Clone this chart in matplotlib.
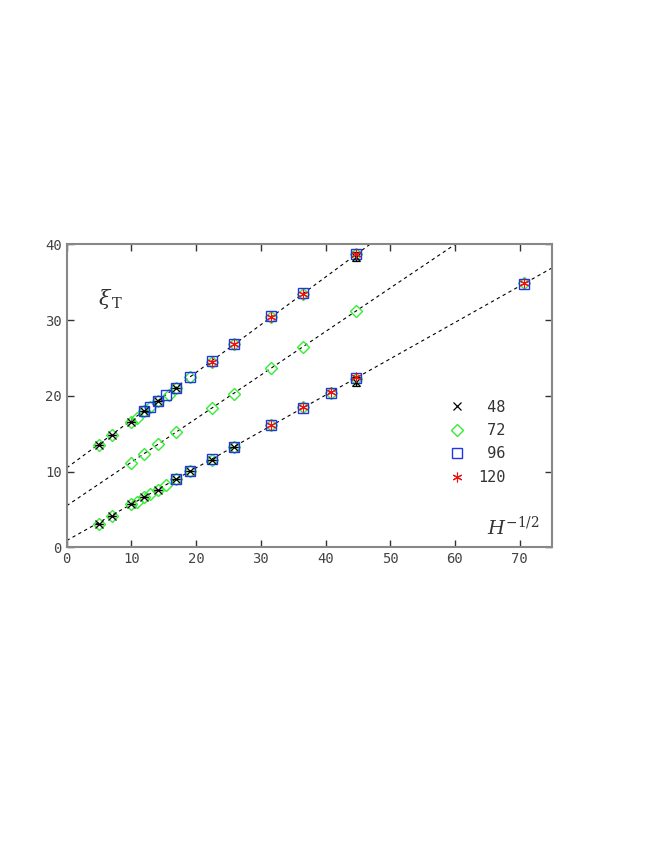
import numpy as np
import matplotlib.pyplot as plt

# H^{-1/2} positions and xi_T values
x48 = [5, 7.07, 10, 11.95, 14.14, 16.9, 44.7,
       5, 7.07, 10, 11.95, 14.14, 16.9, 19.0, 22.4, 25.8, 44.7]
y48 = [13.5, 14.8, 16.6, 18.0, 19.3, 21.0, 38.4,
       3.1, 4.2, 5.7, 6.6, 7.6, 9.0, 10.1, 11.6, 13.3, 21.9]
e48 = [0, 0, 0, 0, 0, 0, 0.6,
       0, 0, 0, 0, 0, 0, 0, 0, 0, 0.6]

x72 = [5, 7.07, 10, 10.9, 11.95, 12.9, 14.14, 15.8, 16.9, 19.0, 22.4, 25.8, 31.6, 36.5, 44.7,
       10, 11.95, 14.14, 16.9, 22.4, 25.8, 31.6, 36.5, 44.7,
       5, 7.07, 10, 10.9, 11.95, 12.9, 14.14, 15.3, 16.9, 19.0, 22.4, 25.8, 31.6, 36.5, 40.8, 44.7, 70.7]
y72 = [13.5, 14.8, 16.6, 17.1, 18.0, 18.5, 19.3, 20.1, 21.0, 22.5, 24.5, 26.8, 30.4, 33.5, 38.8,
       11.2, 12.3, 13.7, 15.2, 18.4, 20.3, 23.7, 26.5, 31.2,
       3.1, 4.2, 5.7, 6.0, 6.6, 7.1, 7.6, 8.2, 9.0, 10.1, 11.6, 13.3, 16.1, 18.5, 20.4, 22.3, 34.9]

x96 = [11.95, 12.9, 14.14, 15.3, 16.9, 19.0, 22.4, 25.8, 31.6, 36.5, 44.7,
       16.9, 19.0, 22.4, 25.8, 31.6, 36.5, 40.8, 44.7, 70.7]
y96 = [18.0, 18.6, 19.3, 20.1, 21.0, 22.5, 24.6, 26.8, 30.5, 33.6, 38.8,
       9.0, 10.1, 11.7, 13.3, 16.1, 18.4, 20.4, 22.4, 34.8]

x120 = [22.4, 25.8, 31.6, 36.5, 44.7,
        31.6, 36.5, 40.8, 44.7, 70.7]
y120 = [24.5, 26.8, 30.4, 33.5, 38.7,
        16.1, 18.5, 20.5, 22.5, 34.9]

# fitted lines: intercept, slope
fit_a = [10.5, 5.5, 0.9]
fit_b = [0.63, 0.575, 0.48]

mono = 'DejaVu Sans Mono'
plt.rcParams['mathtext.fontset'] = 'dejavuserif'

fig = plt.figure(figsize=(6.54, 8.46), dpi=100)
ax = fig.add_axes([0.102, 0.353, 0.742, 0.358])

xx = np.array([0, 75])
for a, b in zip(fit_a, fit_b):
    ax.plot(xx, a + b * xx, color='black', lw=0.8, ls=(0, (3, 3)), zorder=1)

eb = ax.errorbar(x48, y48, yerr=e48, fmt='x', color='black', ms=6, mew=0.9,
                 elinewidth=0.8, capsize=3, zorder=4)
l72, = ax.plot(x72, y72, 'D', mfc='none', mec='#33ee33', ms=6, mew=1.0, ls='none', zorder=2)
l96, = ax.plot(x96, y96, 's', mfc='none', mec='#2233ee', ms=6.5, mew=1.0, ls='none', zorder=3)
# spoked asterisk like the original
l120, = ax.plot(x120, y120, marker=(6, 2, 0), color='#ee1111', ms=7, mew=0.8, ls='none', zorder=5)

ax.set_xlim(0, 75)
ax.set_ylim(0, 40)
ax.set_xticks(range(0, 80, 10))
ax.set_yticks(range(0, 50, 10))
ax.tick_params(direction='in', top=True, right=True, length=5, width=1,
               colors='#333333', labelsize=10)
for lab in ax.get_xticklabels() + ax.get_yticklabels():
    lab.set_family(mono)
    lab.set_color('#444444')
for sp in ax.spines.values():
    sp.set_color('#888888')
    sp.set_linewidth(1.5)

ax.text(0.065, 0.8, r'$\xi_{\,\mathrm{T}}$', transform=ax.transAxes, fontsize=15, color='#333333')
ax.text(0.866, 0.04, r'$H^{-1/2}$', transform=ax.transAxes, fontsize=14, color='#333333')

ax.legend([eb[0], l72, l96, l120], [' 48', ' 72', ' 96', '120'],
          loc='upper left', bbox_to_anchor=(0.76, 0.533), frameon=False,
          prop={'family': mono, 'size': 11}, handletextpad=0.9, labelspacing=0.55,
          handlelength=1.0, labelcolor='#333333')

fig.savefig('out.png', dpi=100)
